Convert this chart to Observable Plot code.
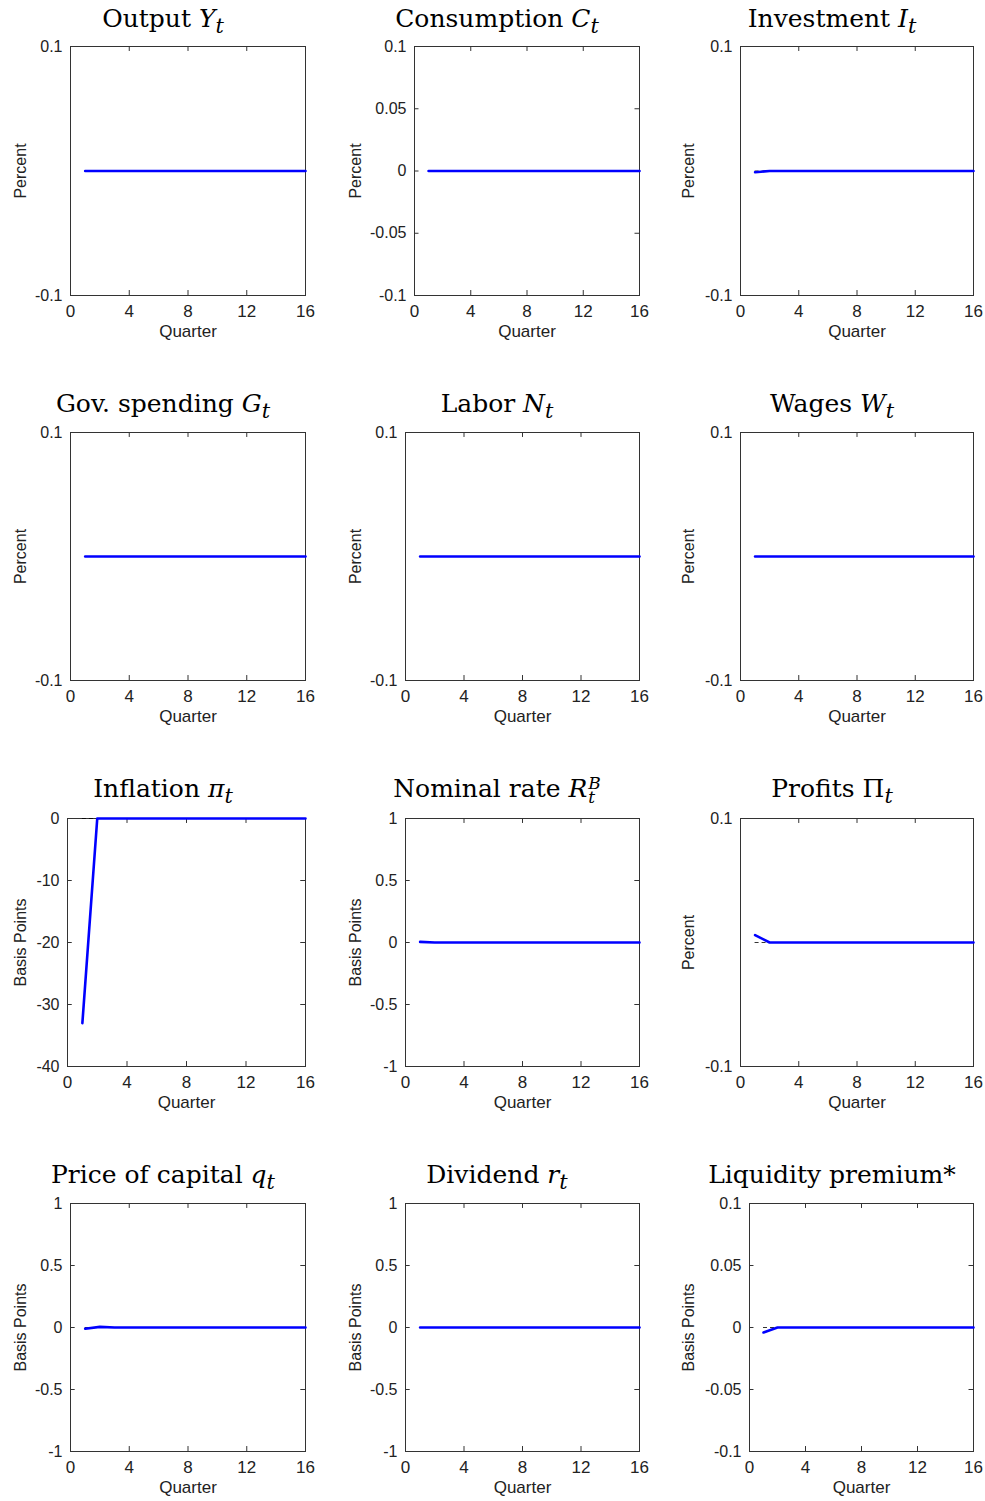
<!DOCTYPE html>
<html><head><meta charset="utf-8">
<script src="https://cdn.jsdelivr.net/npm/d3@7"></script>
<script src="https://cdn.jsdelivr.net/npm/@observablehq/plot@0.6"></script>
<style>
body{margin:0;background:#fff;width:985px;height:1501px;position:relative;overflow:hidden}
.t{position:absolute;font-family:"DejaVu Serif","Liberation Serif",serif;font-size:25px;line-height:30px;white-space:nowrap;transform:translateX(-50%)}
.p{position:absolute}
.st{display:inline-flex;flex-direction:column;font-size:0.68em;line-height:0.85;vertical-align:0.5em;margin-left:1px}
</style></head><body>
<script>
const quarters = d3.range(1, 17);
const titles = ["Output <i>Y<sub>t</sub></i>","Consumption <i>C<sub>t</sub></i>","Investment <i>I<sub>t</sub></i>",
"Gov. spending <i>G<sub>t</sub></i>","Labor <i>N<sub>t</sub></i>","Wages <i>W<sub>t</sub></i>",
"Inflation <i>π<sub>t</sub></i>","Nominal rate <i>R</i><span class='st'><i>B</i><i>t</i></span>","Profits Π<i><sub>t</sub></i>",
"Price of capital <i>q<sub>t</sub></i>","Dividend <i>r<sub>t</sub></i>","Liquidity premium*"];
const ylabels = ["Percent","Percent","Percent","Percent","Percent","Percent","Basis Points","Basis Points","Percent","Basis Points","Basis Points","Basis Points"];
const pctTicks = [-0.1, 0.1];
const consTicks = [-0.1, -0.05, 0, 0.05, 0.1];
const inflTicks = [-40, -30, -20, -10, 0];
const bpTicks = [-1, -0.5, 0, 0.5, 1];
const yticks = [pctTicks, consTicks, pctTicks, pctTicks, pctTicks, pctTicks, inflTicks, bpTicks, pctTicks, bpTicks, bpTicks, consTicks];
const flat = quarters.map(() => 0);
const output = flat, consumption = flat, govspending = flat, labor = flat, wages = flat, dividend = flat;
const investment = [-0.001, 0, 0, 0, 0, 0, 0, 0, 0, 0, 0, 0, 0, 0, 0, 0];
const inflation = [-33, 0, 0, 0, 0, 0, 0, 0, 0, 0, 0, 0, 0, 0, 0, 0];
const nominal = [0.005, 0, 0, 0, 0, 0, 0, 0, 0, 0, 0, 0, 0, 0, 0, 0];
const profits = [0.006, 0, 0, 0, 0, 0, 0, 0, 0, 0, 0, 0, 0, 0, 0, 0];
const priceCap = [-0.01, 0.005, 0, 0, 0, 0, 0, 0, 0, 0, 0, 0, 0, 0, 0, 0];
const liquidity = [-0.004, 0, 0, 0, 0, 0, 0, 0, 0, 0, 0, 0, 0, 0, 0, 0];
const series = [output, consumption, investment, govspending, labor, wages, inflation, nominal, profits, priceCap, dividend, liquidity];
const xticks = [0, 4, 8, 12, 16];
const frames = [[70,305,46,295],[414,639,46,295],[740,973,46,295],
[70,305,432,680],[405,639,432,680],[740,973,432,680],
[67,305,818,1066],[405,639,818,1066],[740,973,818,1066],
[70,305,1203,1451],[405,639,1203,1451],[749,973,1203,1451]];
const titleX = [163,497,832], titleY = [20,405,790,1176];
const labelX = [14,349,682];
const fmt = d => String(d);
frames.forEach(([L,R,T,B], i) => {
  const col = i % 3, row = Math.floor(i / 3);
  const yt = yticks[i];
  const y0 = yt[0], y1 = yt[yt.length-1];
  const data = quarters.map((q,k) => ({q, v: series[i][k]}));
  const tl = 0.02*(y1-y0), txl = 0.02*16;
  const p = Plot.plot({
    width: R-L+80, height: B-T+60,
    marginLeft: 70, marginRight: 10, marginTop: 10, marginBottom: 50,
    style: {fontFamily: "Liberation Sans, Arial, sans-serif", fontSize: "15px", color: "#222"},
    x: {domain: [0,16], ticks: xticks},
    y: {domain: [y0,y1], ticks: yt},
    marks: [
      Plot.frame({stroke: "#333"}),
      Plot.axisX({ticks: xticks, tickSize: 0, tickPadding: 9, tickFormat: fmt, label: "Quarter", labelAnchor: "center", labelArrow: "none", labelOffset: 41, fontSize: 17}),
      Plot.axisY({ticks: yt, tickSize: 0, tickPadding: 8, tickFormat: fmt, label: ylabels[i], labelAnchor: "center", labelArrow: "none", labelOffset: L - labelX[col], fontSize: 16}),
      Plot.ruleX(xticks, {y1: y0, y2: y0 + tl, stroke: "#333"}),
      Plot.ruleX(xticks, {y1: y1, y2: y1 - tl, stroke: "#333"}),
      Plot.ruleY(yt, {x1: 0, x2: txl, stroke: "#333"}),
      Plot.ruleY(yt, {x1: 16, x2: 16 - txl, stroke: "#333"}),
      Plot.ruleY([0], {x1: 1, x2: 16, stroke: "black", strokeDasharray: "4,3", strokeWidth: 0.8}),
      Plot.line(data, {x: "q", y: "v", stroke: "#0000ff", strokeWidth: 2.6})
    ]
  });
  p.classList.add("p");
  p.style.left = (L-70)+"px"; p.style.top = (T-10)+"px";
  document.body.appendChild(p);
  const t = document.createElement("div");
  t.className = "t"; t.innerHTML = titles[i];
  t.style.left = titleX[col]+"px"; t.style.top = (titleY[row]-16)+"px";
  document.body.appendChild(t);
});
</script>
</body></html>
